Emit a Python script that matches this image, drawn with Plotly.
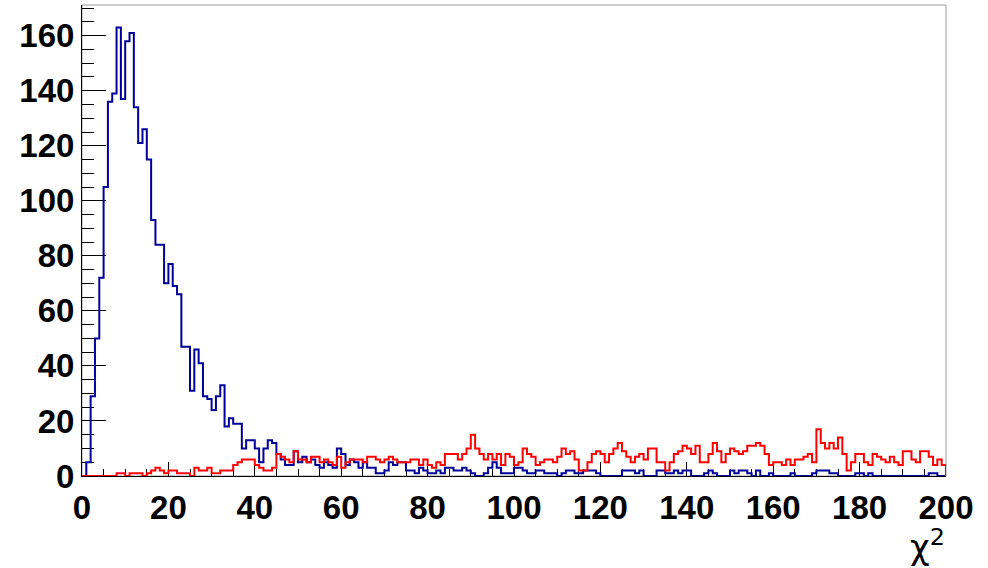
import plotly.graph_objects as go

# bin edges: 200 bins of width 1 from 0 to 200
x_min = 0
x_max = 200
n_bins = 200

blue_counts = [
    0, 5, 29, 50, 72, 105, 136, 139, 163, 137,
    158, 161, 134, 121, 126, 115, 93, 84, 84, 70,
    77, 69, 66, 47, 47, 31, 46, 41, 29, 28,
    24, 29, 33, 18, 21, 19, 19, 10, 13, 13,
    10, 5, 10, 13, 12, 8, 6, 4, 4, 9,
    5, 7, 5, 6, 4, 3, 5, 4, 3, 10,
    8, 4, 6, 5, 3, 5, 3, 3, 1, 1,
    2, 5, 4, 5, 5, 2, 2, 1, 3, 2,
    1, 1, 2, 1, 3, 3, 2, 2, 3, 2,
    1, 0, 0, 1, 3, 5, 3, 1, 1, 1,
    3, 3, 2, 1, 1, 2, 2, 1, 1, 1,
    0, 1, 2, 2, 1, 1, 2, 2, 2, 1,
    0, 0, 0, 0, 0, 2, 2, 2, 1, 2,
    0, 0, 0, 2, 2, 1, 1, 2, 1, 2,
    2, 0, 0, 0, 1, 2, 1, 0, 0, 0,
    2, 1, 2, 2, 1, 0, 2, 0, 0, 1,
    0, 0, 0, 0, 1, 0, 0, 0, 0, 1,
    2, 2, 2, 1, 1, 0, 0, 0, 0, 1,
    1, 0, 1, 0, 0, 0, 0, 0, 0, 0,
    0, 0, 0, 0, 0, 0, 1, 1, 0, 0,
]

red_counts = [
    0, 0, 0, 0, 0, 0, 0, 0, 1, 1,
    0, 1, 1, 1, 0, 1, 2, 3, 2, 1,
    2, 2, 1, 1, 1, 0, 3, 2, 2, 3,
    1, 1, 2, 2, 2, 4, 5, 6, 6, 6,
    4, 3, 2, 2, 3, 8, 7, 6, 5, 9,
    6, 6, 5, 7, 7, 5, 6, 5, 4, 7,
    3, 5, 6, 6, 6, 5, 7, 7, 6, 5,
    6, 7, 6, 5, 5, 5, 6, 6, 4, 6,
    4, 3, 5, 4, 8, 8, 8, 6, 8, 10,
    15, 10, 8, 6, 8, 6, 8, 4, 8, 7,
    4, 5, 10, 8, 7, 4, 5, 6, 6, 5,
    7, 10, 8, 9, 6, 2, 2, 5, 8, 9,
    8, 5, 8, 10, 12, 9, 7, 5, 7, 8,
    6, 10, 10, 5, 5, 2, 5, 8, 9, 11,
    10, 8, 11, 5, 5, 8, 12, 9, 5, 8,
    10, 9, 8, 9, 11, 11, 12, 11, 8, 4,
    5, 5, 4, 6, 4, 6, 6, 7, 8, 5,
    17, 12, 10, 12, 10, 14, 8, 2, 5, 8,
    8, 5, 4, 8, 7, 6, 5, 7, 5, 4,
    9, 9, 6, 5, 9, 9, 7, 4, 6, 4,
]

x_ticks = [0, 20, 40, 60, 80, 100, 120, 140, 160, 180, 200]
y_ticks = [0, 20, 40, 60, 80, 100, 120, 140, 160]
x_title = "χ<sup>2</sup>"

bin_w = (x_max - x_min) / n_bins
edges = [x_min + i * bin_w for i in range(n_bins + 1)]


def outline(counts):
    xs = [edges[0]] + edges + [edges[-1]]
    ys = [0] + list(counts) + [counts[-1], 0]
    return xs, ys


fig = go.Figure()
for counts, color in [(blue_counts, "#000099"), (red_counts, "#ff0000")]:
    xs, ys = outline(counts)
    fig.add_trace(go.Scatter(x=xs, y=ys, mode="lines", line=dict(color=color, width=2, shape="hv"),
                             hoverinfo="skip", showlegend=False, cliponaxis=False))

ymax = 1.05 * max(max(blue_counts), max(red_counts))

tick_font = dict(family="Liberation Sans, Arial, sans-serif", size=33, color="black", weight="bold")

fig.update_layout(
    width=988, height=568,
    margin=dict(l=82, r=42, t=5, b=92, autoexpand=False),
    paper_bgcolor="white", plot_bgcolor="white",
    showlegend=False,
    xaxis=dict(range=[x_min, x_max], tickvals=x_ticks, ticktext=[str(v) for v in x_ticks],
               ticks="inside", ticklen=14, tickwidth=1, tickcolor="black",
               minor=dict(dtick=5, tick0=0, ticks="inside", ticklen=7, tickwidth=1, tickcolor="black", showgrid=False),
               showline=True, linecolor="black", linewidth=1, showgrid=False, zeroline=False,
               tickfont=tick_font, layer="below traces", ticklabelstandoff=2, automargin=False),
    yaxis=dict(range=[0, ymax], tickvals=y_ticks, ticktext=[str(v) for v in y_ticks],
               ticks="inside", ticklen=24, tickwidth=1, tickcolor="black",
               minor=dict(dtick=5, tick0=0, ticks="inside", ticklen=12, tickwidth=1, tickcolor="black", showgrid=False),
               showline=True, linecolor="black", linewidth=1, showgrid=False, zeroline=False,
               tickfont=tick_font, layer="below traces", ticklabelstandoff=0, automargin=False),
    shapes=[dict(type="rect", xref="paper", yref="paper", x0=0, x1=1, y0=0, y1=1,
                 line=dict(color="#999999", width=1), layer="below")],
    annotations=[dict(text=x_title, xref="paper", yref="paper", x=1, y=-0.195, xanchor="right", yanchor="bottom",
                      showarrow=False, borderpad=0,
                      font=dict(family="DejaVu Sans, sans-serif", size=34, color="black"))],
)

fig.write_html("out.html", config={"displayModeBar": False},
               post_script="document.body.style.margin='0';document.body.style.padding='0';")
